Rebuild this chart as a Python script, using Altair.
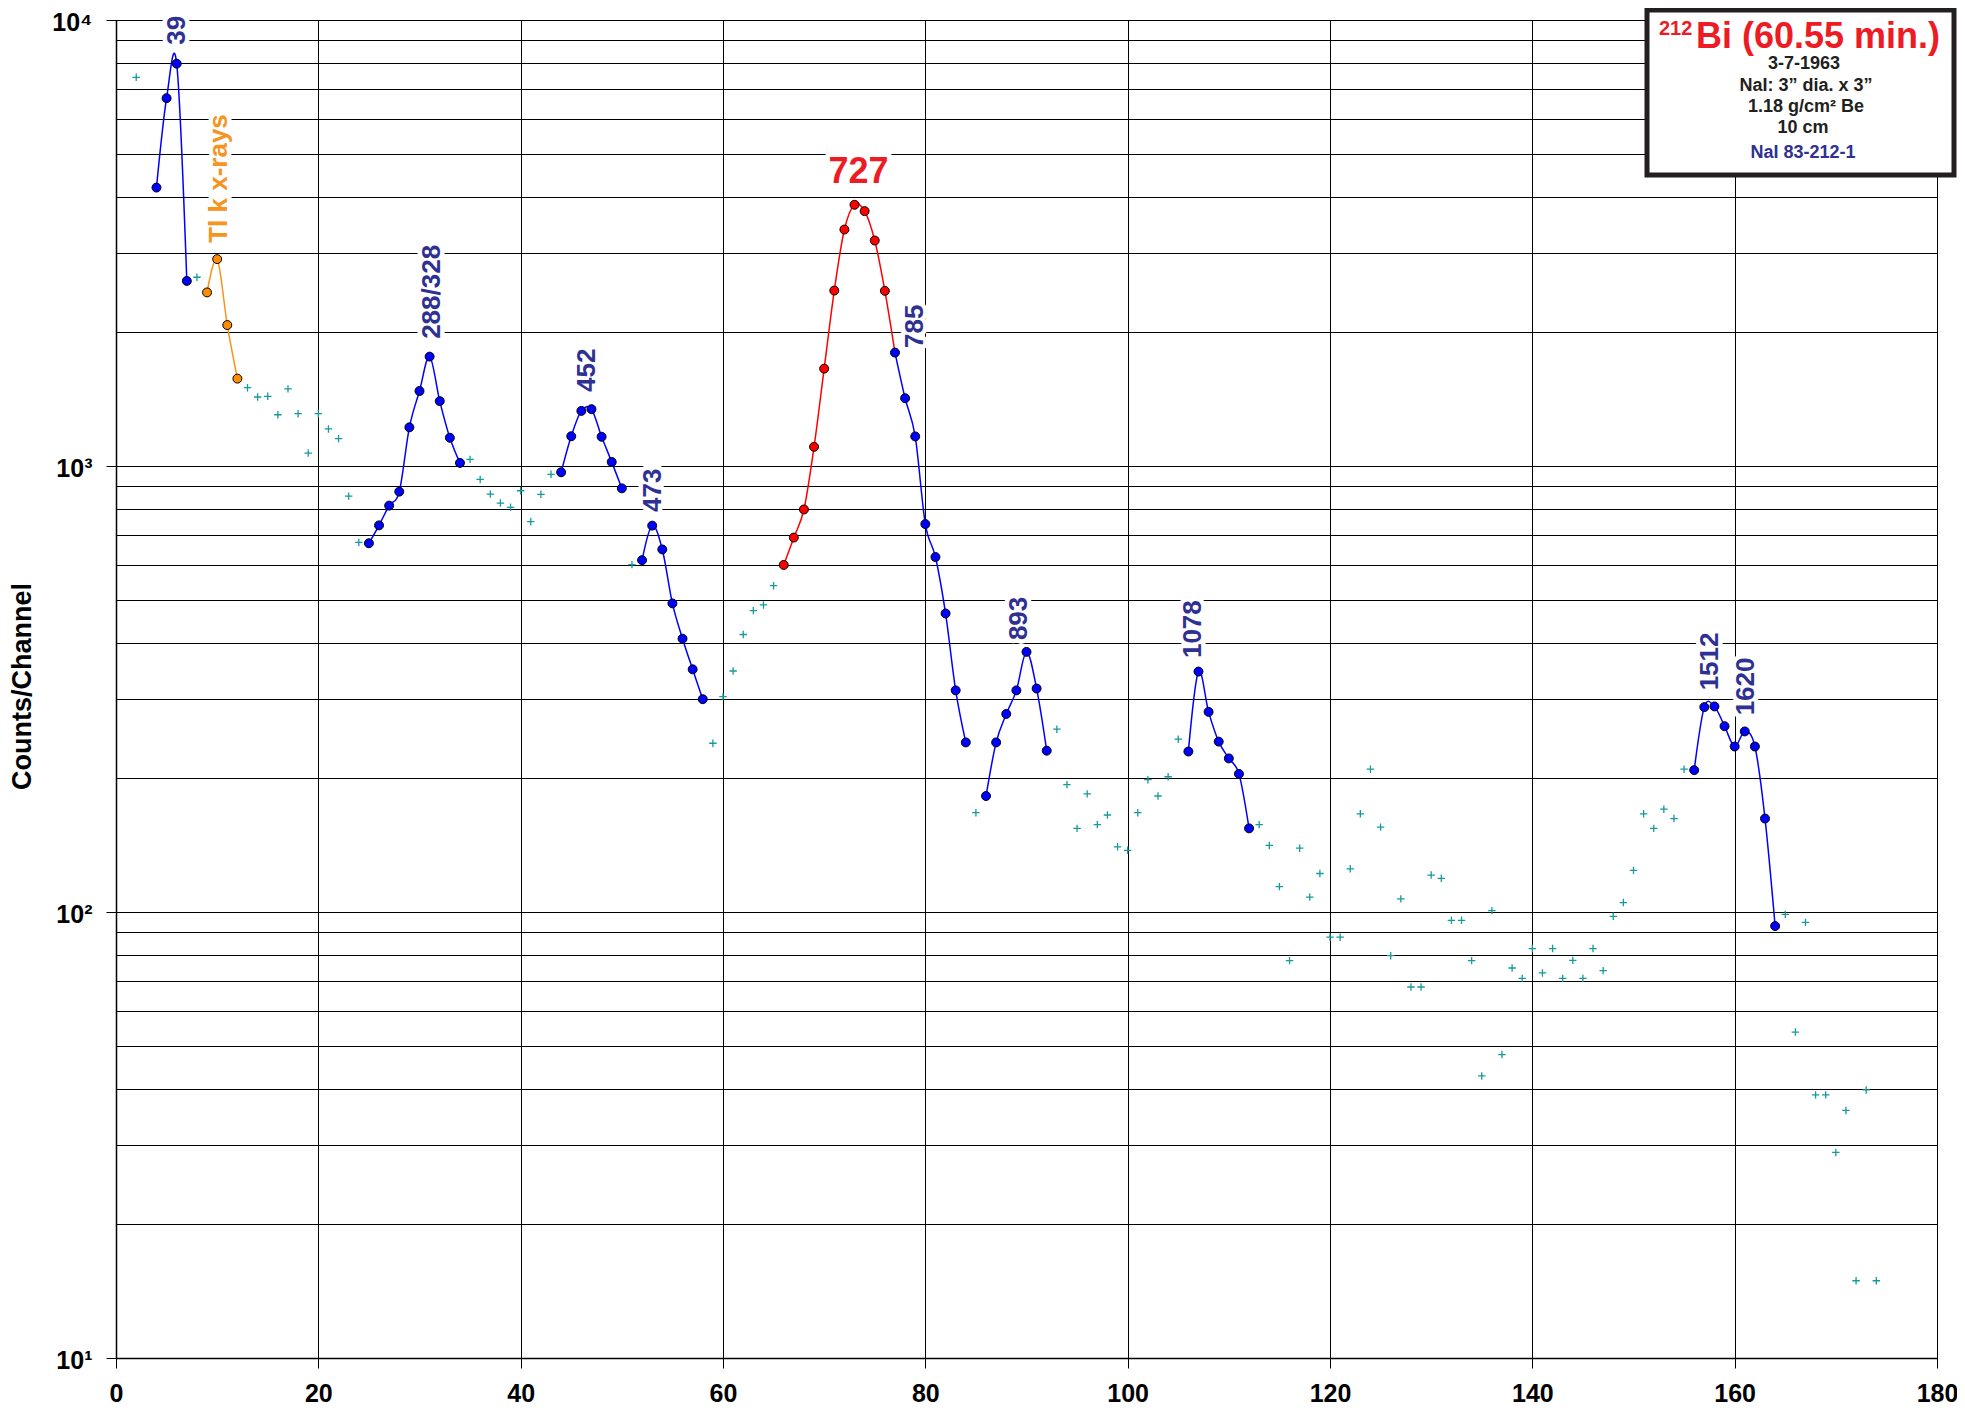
import altair as alt
import pandas as pd

# ---------------- data ----------------
# background channels (teal "+")
cross_ch = [2, 8,
            13, 14, 15, 16, 17, 18, 19, 20, 21, 22, 23, 24,
            35, 36, 37, 38, 39, 40, 41, 42, 43,
            51,
            59, 60, 61, 62, 63, 64, 65,
            85,
            93, 94, 95, 96, 97, 98, 99, 100, 101, 102, 103, 104, 105,
            113, 114, 115, 116, 117, 118, 119, 120, 121, 122, 123, 124, 125, 126, 127,
            128, 129, 130, 131, 132, 133, 134, 135, 136, 137, 138, 139, 140, 141, 142,
            143, 144, 145, 146, 147, 148, 149, 150, 151, 152, 153, 154, 155,
            165, 166, 167, 168, 169, 170, 171, 172, 173, 174]
cross_cnt = [7440, 2650,
             1498, 1428, 1433, 1303, 1489, 1310, 1069, 1310, 1211, 1152, 856, 674,
             1035, 933, 865, 826, 808, 880, 750, 864, 958,
             601,
             239, 304, 347, 419, 474, 488, 539,
             167,
             257, 193, 154, 184, 157, 165, 140, 137.5, 167, 198, 182, 201, 244,
             157, 141, 114, 77.8, 139, 108, 122, 87.8, 87.8, 125, 166, 209, 155, 79.8, 107,
             67.9, 67.9, 121, 119, 95.8, 95.8, 77.8, 42.9, 100.7, 47.9, 74.9, 71.0, 82.8, 73.0, 82.8,
             71.0, 77.9, 71.0, 82.8, 73.9, 97.8, 105, 124, 166, 154, 170, 162, 209,
             98.8, 53.8, 94.8, 38.9, 38.9, 28.9, 35.9, 14.9, 39.9, 14.9]

# fitted peaks (blue)
p39_ch, p39_cnt = [4, 5, 6, 7], [4210, 6680, 7980, 2600]
p288_ch, p288_cnt = list(range(25, 35)), [671, 736, 815, 876, 1221, 1473, 1759, 1398, 1157, 1016]
p452_ch, p452_cnt = list(range(44, 51)), [968, 1166, 1329, 1341, 1163, 1021, 891]
p473_ch, p473_cnt = list(range(52, 59)), [615, 735, 650, 492, 410, 350, 300]
p785_ch, p785_cnt = list(range(77, 85)), [1796, 1419, 1165, 741, 625, 467, 314, 240]
p893_ch, p893_cnt = list(range(86, 93)), [182, 240, 278, 314, 383, 317, 230]
p1078_ch, p1078_cnt = list(range(106, 113)), [229, 346, 281, 241, 221, 204, 154]
p1512_ch, p1512_cnt = list(range(156, 165)), [208, 288, 289, 261, 235, 254, 235, 162, 93]

# Tl K x-rays (orange)
tl_ch, tl_cnt = [9, 10, 11, 12], [2450, 2910, 2070, 1570]

# 727 keV peak (red)
p727_ch, p727_cnt = list(range(66, 77)), [600, 691, 799, 1104, 1653, 2474, 3390, 3852, 3728, 3203, 2470]

# peak labels
label_text = ["39", "Tl k x-rays", "288/328", "452", "473", "785", "893", "1078", "1512", "1620"]
label_ch = [6.06, 10.2, 31.25, 46.6, 53.1, 79.0, 89.3, 106.5, 157.6, 161.1]
label_cnt = [8800, 3165, 1928, 1466, 789, 1840, 407, 371, 314, 276]
label_kind = ["peak", "xray", "peak", "peak", "peak", "peak", "peak", "peak", "peak", "peak"]

main_label, main_label_ch, main_label_cnt = "727", 73.4, 4315

# ---------------- styling ----------------
FONT = "Liberation Sans, Arial, Helvetica, sans-serif"
BLUE = "#0000FF"
RED = "#FF0000"
ORANGE = "#F7941D"
TEAL = "#169A9A"
NAVY = "#2E3192"
W, H = 1821, 1338

xs = alt.Scale(domain=[0, 180], nice=False, zero=False)
ys = alt.Scale(type="log", domain=[10, 10000], nice=False)

grid_vals = [m * 10 ** e for e in range(1, 4) for m in range(1, 10)] + [10000]
decade = "abs(log(datum.value)/LN10 - round(log(datum.value)/LN10)) < 0.000001"
label_expr = ("(" + decade + ") ? ('10' + (datum.value > 5000 ? '\u2074' : datum.value > 500 ? '\u00b3' "
              ": datum.value > 50 ? '\u00b2' : '\u00b9')) : ''")

x_axis = alt.Axis(values=list(range(0, 181, 20)), grid=True, gridColor="black", gridWidth=1,
                  gridOpacity=1, tickSize=10, tickColor="black", domainColor="black",
                  domainWidth=1.5, labelFont=FONT, labelFontSize=25, labelFontWeight="bold",
                  labelColor="black", labelPadding=13, labelFlush=False, labelOverlap=False,
                  title=None)
y_axis = alt.Axis(values=grid_vals, grid=True, gridColor="black", gridWidth=1, gridOpacity=1,
                  tickSize=10, tickColor="black",
                  tickOpacity={"condition": {"test": decade, "value": 1}, "value": 0},
                  domainColor="black", domainWidth=1.5, labelExpr=label_expr, labelFont=FONT,
                  labelFontSize=25, labelFontWeight="bold", labelColor="black", labelPadding=14,
                  labelOverlap=False, labelFlush=False, labelOffset=2,
                  title="Counts/Channel", titleFont=FONT, titleFontSize=27,
                  titleFontWeight="bold", titleColor="black", titleAngle=270, titleX=-94,
                  titleY=666, titleAlign="center", titleBaseline="middle")


def frame(ch, cnt, **extra):
    d = {"ch": ch, "cnt": cnt}
    d.update(extra)
    return pd.DataFrame(d)


blue_df = pd.concat([
    frame(p39_ch, p39_cnt, seg="39"),
    frame(p288_ch, p288_cnt, seg="288"),
    frame(p452_ch, p452_cnt, seg="452"),
    frame(p473_ch, p473_cnt, seg="473"),
    frame(p785_ch, p785_cnt, seg="785"),
    frame(p893_ch, p893_cnt, seg="893"),
    frame(p1078_ch, p1078_cnt, seg="1078"),
    frame(p1512_ch, p1512_cnt, seg="1512"),
], ignore_index=True)
red_pts = frame(p727_ch, p727_cnt)
red_line = frame(p727_ch + p785_ch[:1], p727_cnt + p785_cnt[:1])
tl_df = frame(tl_ch, tl_cnt)
cross_df = frame(cross_ch, cross_cnt)
lab_df = pd.DataFrame({"ch": label_ch, "cnt": label_cnt, "text": label_text,
                       "col": [ORANGE if k == "xray" else NAVY for k in label_kind]})
main_df = pd.DataFrame({"ch": [main_label_ch], "cnt": [main_label_cnt], "text": [main_label]})

X = lambda: alt.X("ch:Q", scale=xs, axis=x_axis)
Y = lambda: alt.Y("cnt:Q", scale=ys, axis=y_axis)

crosses = alt.Chart(cross_df).mark_point(
    shape="M-1,0H1M0,-1V1", size=55, filled=False, strokeWidth=1.3, color=TEAL, opacity=1
).encode(x=X(), y=Y())

halo = alt.Chart(lab_df).mark_text(
    angle=270, align="left", baseline="middle", font=FONT, fontSize=26, fontWeight="bold",
    fill="white", stroke="white", strokeWidth=9, strokeJoin="round"
).encode(x=X(), y=Y(), text="text:N")
halo727 = alt.Chart(main_df).mark_text(
    align="center", baseline="alphabetic", font=FONT, fontSize=36, fontWeight="bold",
    fill="white", stroke="white", strokeWidth=10, strokeJoin="round"
).encode(x=X(), y=Y(), text="text:N")

blue_line = alt.Chart(blue_df).mark_line(interpolate="cardinal", color=BLUE, strokeWidth=1.5).encode(
    x=X(), y=Y(), detail="seg:N")
red_l = alt.Chart(red_line).mark_line(interpolate="cardinal", color=RED, strokeWidth=1.5).encode(x=X(), y=Y())
tl_l = alt.Chart(tl_df).mark_line(interpolate="cardinal", color=ORANGE, strokeWidth=1.5).encode(x=X(), y=Y())

pt = dict(shape="circle", size=80, filled=True, stroke="black", strokeWidth=1, opacity=1)
blue_p = alt.Chart(blue_df).mark_point(fill=BLUE, **pt).encode(x=X(), y=Y())
red_p = alt.Chart(red_pts).mark_point(fill=RED, **pt).encode(x=X(), y=Y())
tl_p = alt.Chart(tl_df).mark_point(fill="#FF8C00", **pt).encode(x=X(), y=Y())

labels = alt.Chart(lab_df).mark_text(
    angle=270, align="left", baseline="middle", font=FONT, fontSize=26, fontWeight="bold"
).encode(x=X(), y=Y(), text="text:N", color=alt.Color("col:N", scale=None))
label727 = alt.Chart(main_df).mark_text(
    align="center", baseline="alphabetic", font=FONT, fontSize=36, fontWeight="bold", color="#ED1C24"
).encode(x=X(), y=Y(), text="text:N")

one = pd.DataFrame({"a": [0]})
box = alt.Chart(one).mark_rect(fill="white", stroke="#231F20", strokeWidth=5).encode(
    x=alt.value(1531), x2=alt.value(1838), y=alt.value(-10), y2=alt.value(155))


def box_text(txt, px, py, size, color, align="center"):
    return alt.Chart(one).mark_text(
        align=align, baseline="alphabetic", font=FONT, fontSize=size, fontWeight="bold", color=color
    ).encode(x=alt.value(px), y=alt.value(py), text=alt.value(txt))


box_texts = [
    box_text("212", 1543, 14.7, 20, "#ED1C24", "left"),
    box_text("Bi (60.55 min.)", 1580, 28.2, 36, "#ED1C24", "left"),
    box_text("3-7-1963", 1688, 49, 18, "#231F20"),
    box_text("NaI: 3\u201d dia. x 3\u201d", 1690, 71, 18, "#231F20"),
    box_text("1.18 g/cm\u00b2 Be", 1690, 92, 18, "#231F20"),
    box_text("10 cm", 1687, 113, 18, "#231F20"),
    box_text("NaI 83-212-1", 1687, 138, 18, NAVY),
]

chart = alt.layer(
    crosses, halo, halo727, blue_line, red_l, tl_l, blue_p, red_p, tl_p, labels, label727,
    box, *box_texts
).properties(
    width=W, height=H,
    autosize=alt.AutoSizeParams(type="none"),
    padding={"left": 108, "top": 12, "right": 20, "bottom": 50},
).configure_view(stroke="black", strokeWidth=1)

chart.save("out.html", embed_options={"renderer": "svg", "actions": False})
